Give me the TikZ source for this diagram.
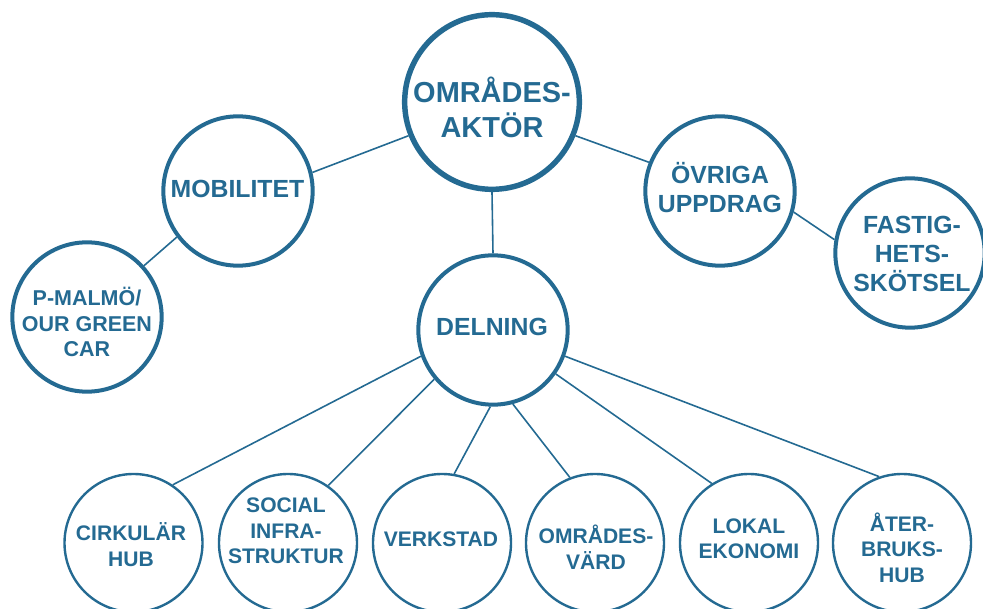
\documentclass[tikz,border=0pt]{standalone}
\usepackage{fontspec}
\setmainfont{Liberation Sans}
\definecolor{blu}{RGB}{36,106,146}
\begin{document}
\begin{tikzpicture}[x=0.75pt,y=-0.75pt,
  bigc/.style={circle,draw=blu,line width=4.1pt,minimum size=131pt,inner sep=0pt},
  midc/.style={circle,draw=blu,line width=3pt,minimum size=112pt,inner sep=0pt},
  smallc/.style={circle,draw=blu,line width=1.8pt,minimum size=103.5pt,inner sep=0pt},
  conn/.style={draw=blu,line width=1.2pt},
  bigt/.style={text=blu,font=\bfseries\fontsize{21.7}{26}\selectfont,align=center,inner sep=0pt},
  midt/.style={text=blu,font=\bfseries\fontsize{18.6}{22}\selectfont,align=center,inner sep=0pt},
  pmt/.style={text=blu,font=\bfseries\fontsize{16.1}{18.8}\selectfont,align=center,inner sep=0pt},
  smallt/.style={text=blu,font=\bfseries\fontsize{15.8}{19.1}\selectfont,align=center,inner sep=0pt}]
\useasboundingbox (0,0) rectangle (983,609);
% circles
\node[bigc] (top) at (492,102) {};
\node[midc] (mob) at (238,191) {};
\node[midc] (pm) at (87,317) {};
\node[midc] (ovr) at (720,191) {};
\node[midc] (fas) at (910,253) {};
\node[midc] (del) at (493,330) {};
\node[smallc] (c1) at (133.5,543) {};
\node[smallc] (c2) at (288,543) {};
\node[smallc] (c3) at (442,543) {};
\node[smallc] (c4) at (595,543) {};
\node[smallc] (c5) at (749,543) {};
\node[smallc] (c6) at (902,543) {};
% texts
\node[bigt] (topt) at (492,107.5) {OMRÅDES-\\AKTÖR};
\node[midt] (mobt) at (237.5,189) {MOBILITET};
\node[pmt] (pmt) at (87,322) {P-MALMÖ/\\OUR GREEN\\CAR};
\node[midt] (ovrt) at (720,187.5) {ÖVRIGA\\UPPDRAG};
\node[midt] (fast) at (912,254) {FASTIG-\\HETS-\\SKÖTSEL};
\node[midt] (delt) at (492,327) {DELNING};
\node[smallt] (c1t) at (131,544.5) {CIRKULÄR\\HUB};
\node[smallt] (c2t) at (286,531) {SOCIAL\\INFRA-\\STRUKTUR};
\node[smallt] (c3t) at (441,539) {VERKSTAD};
\node[smallt] (c4t) at (596,547) {OMRÅDES-\\VÄRD};
\node[smallt] (c5t) at (749,538.5) {LOKAL\\EKONOMI};
\node[smallt] (c6t) at (902,547.5) {ÅTER-\\BRUKS-\\HUB};
% connectors
\draw[conn] (top.202) -- (mob.14);
\draw[conn] (top.338) -- (ovr.158);
\draw[conn] (ovr.344) -- (fas.170);
\draw[conn] (mob.217) -- (pm.42);
\draw[conn] (top.270) -- (del.90);
\draw[conn] (del.200) -- (c1.56.6);
\draw[conn] (del.220) -- (c2.55.6);
\draw[conn] (del.268) -- (c3.80);
\draw[conn] (del.285.5) -- (c4.111.6);
\draw[conn] (del.325) -- (c5.122);
\draw[conn] (del.340) -- (c6.109.5);
\end{tikzpicture}
\end{document}
